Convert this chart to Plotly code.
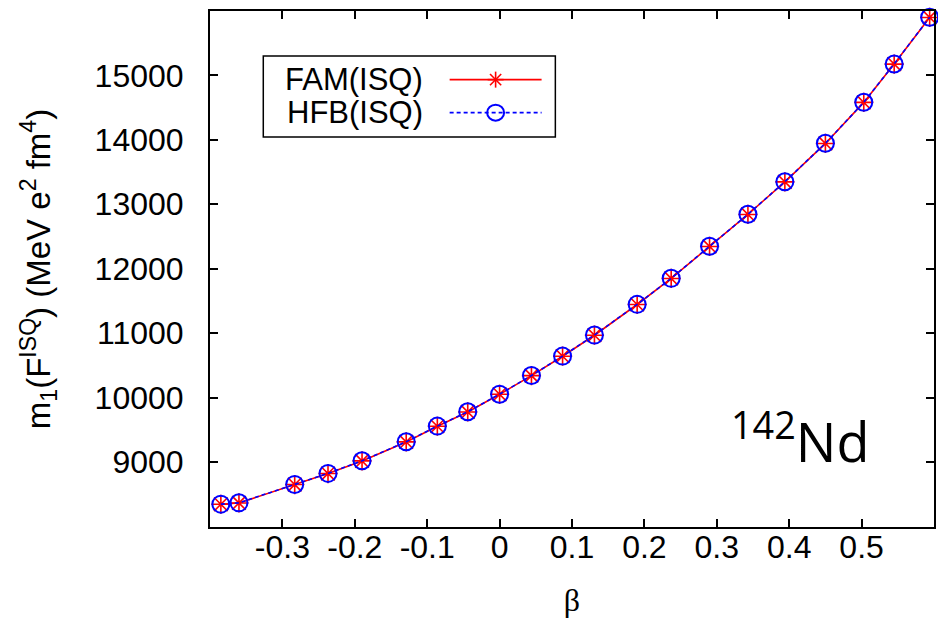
import plotly.graph_objects as go

beta = [-0.385, -0.360, -0.283, -0.237, -0.190, -0.129, -0.086, -0.044, 0.000, 0.044,
        0.087, 0.131, 0.190, 0.237, 0.290, 0.343, 0.394, 0.450, 0.503, 0.545, 0.594]
fam = [8343, 8363, 8649, 8820, 9016, 9311, 9554, 9776, 10050, 10340,
       10641, 10967, 11444, 11848, 12345, 12842, 13348, 13944, 14581, 15176, 15900]
hfb = [8345, 8365, 8651, 8822, 9018, 9313, 9556, 9778, 10052, 10342,
       10643, 10969, 11446, 11850, 12347, 12844, 13350, 13946, 14583, 15178, 15902]

x_ticks = [-0.3, -0.2, -0.1, 0, 0.1, 0.2, 0.3, 0.4, 0.5]
x_labels = ["-0.3", "-0.2", "-0.1", "0", "0.1", "0.2", "0.3", "0.4", "0.5"]
y_ticks = [9000, 10000, 11000, 12000, 13000, 14000, 15000]
y_labels = ["9000", "10000", "11000", "12000", "13000", "14000", "15000"]

RED = "#ff0000"
BLUE = "#0000ff"
SANS = "Liberation Sans, Arial, sans-serif"

fig = go.Figure()
fig.add_trace(go.Scatter(
    x=beta, y=fam, mode="lines+markers", name="FAM(ISQ)",
    line=dict(color=RED, width=1.6),
    marker=dict(symbol="asterisk-open", size=16, line=dict(color=RED, width=1.6)),
    showlegend=False, cliponaxis=False))
fig.add_trace(go.Scatter(
    x=beta, y=hfb, mode="lines+markers", name="HFB(ISQ)",
    line=dict(color=BLUE, width=1.6, dash="4px,3px"),
    marker=dict(symbol="circle-open", size=17, line=dict(color=BLUE, width=2)),
    showlegend=False, cliponaxis=False))

# manual legend (text left, sample right) in paper coordinates
L = dict(x0=0.0736, x1=0.477, y0=0.756, y1=0.913)
fig.add_shape(type="rect", xref="paper", yref="paper", x0=L["x0"], x1=L["x1"],
              y0=L["y0"], y1=L["y1"], line=dict(color="black", width=1.5),
              fillcolor="white", layer="above")
row1, row2 = 0.867, 0.803
sx0, sx1, sxc = 0.331, 0.458, 0.3945
fig.add_annotation(text="FAM(ISQ)", xref="paper", yref="paper", x=0.2966, y=row1,
                   xanchor="right", yanchor="middle", showarrow=False,
                   font=dict(family=SANS, size=31, color="black"))
fig.add_annotation(text="HFB(ISQ)", xref="paper", yref="paper", x=0.2966, y=row2,
                   xanchor="right", yanchor="middle", showarrow=False,
                   font=dict(family=SANS, size=31, color="black"))
fig.add_shape(type="line", xref="paper", yref="paper", x0=sx0, x1=sx1, y0=row1, y1=row1,
              line=dict(color=RED, width=1.6), layer="above")
# asterisk sample
r = 8
for dx, dy in [(0, r), (r * 0.7, r * 0.7), (r * 0.7, -r * 0.7), (r, 0)]:
    fig.add_shape(type="line", xref="paper", yref="paper",
                  x0=sxc - dx / 726.5, x1=sxc + dx / 726.5,
                  y0=row1 - dy / 516, y1=row1 + dy / 516,
                  line=dict(color=RED, width=1.6), layer="above")
fig.add_shape(type="line", xref="paper", yref="paper", x0=sx0, x1=sx1, y0=row2, y1=row2,
              line=dict(color=BLUE, width=1.6, dash="4px,3px"), layer="above")
fig.add_shape(type="circle", xref="paper", yref="paper",
              x0=sxc - 8.5 / 726.5, x1=sxc + 8.5 / 726.5,
              y0=row2 - 8 / 516, y1=row2 + 8 / 516,
              line=dict(color=BLUE, width=2), fillcolor="rgba(0,0,0,0)", layer="above")

fig.add_annotation(text="<sup>142</sup>Nd", xref="paper", yref="paper",
                   x=0.816, y=0.172, xanchor="center", yanchor="middle", showarrow=False,
                   font=dict(family="Open Sans, sans-serif", size=54, color="black"))

axis_common = dict(showline=True, linecolor="black", linewidth=2, mirror="ticks",
                   ticks="inside", ticklen=8, tickwidth=2, tickcolor="black",
                   showgrid=False, zeroline=False,
                   tickfont=dict(family=SANS, size=32, color="black"))
fig.update_xaxes(range=[-0.4, 0.6], tickvals=x_ticks, ticktext=x_labels,
                 ticklabelstandoff=-9,
                 title=dict(text="β", font=dict(family="Liberation Serif, Times New Roman, serif",
                                                 size=32, color="black"), standoff=24),
                 **axis_common)
fig.update_yaxes(range=[7990, 16000], tickvals=y_ticks, ticktext=y_labels,
                 ticklabelstandoff=18,
                 title=dict(text="m<sub>1</sub>(F<sup>ISQ</sup>) (MeV e<sup>2</sup> fm<sup>4</sup>)",
                            font=dict(family=SANS, size=33, color="black"), standoff=34),
                 **axis_common)
fig.update_layout(width=938, height=624, margin=dict(l=209.5, r=2, t=11, b=97),
                  plot_bgcolor="white", paper_bgcolor="white")
fig.write_html("out.html")
